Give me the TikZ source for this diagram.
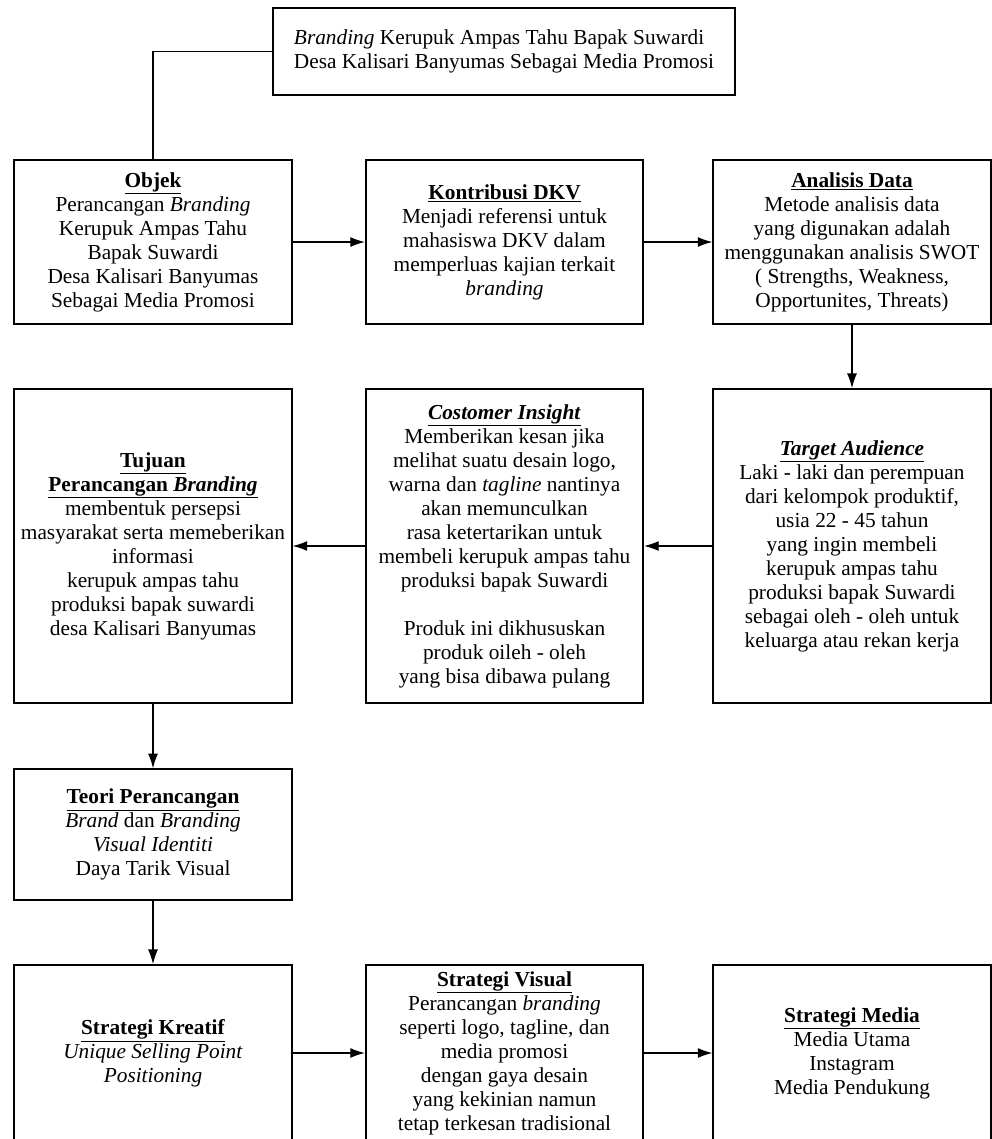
\documentclass[tikz,border=0pt]{standalone}
\usepackage{fontspec}
\setmainfont{Liberation Serif}
\usetikzlibrary{arrows.meta}

\begin{document}
\begin{tikzpicture}[x=0.75pt, y=-0.75pt, thick, >={Latex[length=11pt,width=7.5pt]},
    box/.style={draw, line width=1.3pt, align=center, inner sep=1pt, font=\fontsize{16}{18}\selectfont},
    colbox/.style={box, minimum width=208pt},
    arr/.style={line width=1pt, ->}]
    \clip (0,0) rectangle (992,1139);
    \fill [white] (0,0) rectangle (992,1139);

    % Boxes
    \node [box, align=left, minimum width=346.5pt, minimum height=65pt] (title) at (504,51.5)
        {\textit{Branding} Kerupuk Ampas Tahu Bapak Suwardi\\Desa Kalisari Banyumas Sebagai Media Promosi};
    \node [colbox, minimum height=123pt] (objek) at (153,242)
        {\underline{\textbf{Objek}}\\Perancangan \textit{Branding}\\Kerupuk Ampas Tahu\\Bapak Suwardi\\Desa Kalisari Banyumas\\Sebagai Media Promosi};
    \node [colbox, minimum height=123pt] (kontribusi) at (504.5,242)
        {\underline{\textbf{Kontribusi DKV}}\\Menjadi referensi untuk\\mahasiswa DKV dalam\\memperluas kajian terkait\\\textit{branding}};
    \node [colbox, minimum height=123pt] (analisis) at (852,242)
        {\underline{\textbf{Analisis Data}}\\Metode analisis data\\yang digunakan adalah\\menggunakan analisis SWOT\\( Strengths, Weakness,\\Opportunites, Threats)};
    \node [colbox, minimum height=235.5pt] (target) at (852,546)
        {\underline{\textbf{\textit{Target Audience}}}\\Laki - laki dan perempuan\\dari kelompok produktif,\\usia 22 - 45 tahun\\yang ingin membeli\\kerupuk ampas tahu\\produksi bapak Suwardi\\sebagai oleh - oleh untuk\\keluarga atau rekan kerja};
    \node [colbox, minimum height=235.5pt] (insight) at (504.5,546)
        {\underline{\textbf{\textit{Costomer Insight}}}\\Memberikan kesan jika\\melihat suatu desain logo,\\warna dan \textit{tagline} nantinya\\akan memunculkan\\rasa ketertarikan untuk\\membeli kerupuk ampas tahu\\produksi bapak Suwardi\\[18pt]Produk ini dikhususkan\\produk oileh - oleh\\yang bisa dibawa pulang};
    \node [colbox, minimum height=235.5pt] (tujuan) at (153,546)
        {\underline{\textbf{Tujuan}}\\\underline{\textbf{Perancangan \textit{Branding}}}\\membentuk persepsi\\masyarakat serta memeberikan\\informasi\\kerupuk ampas tahu\\produksi bapak suwardi\\desa Kalisari Banyumas};
    \node [colbox, minimum height=98pt] (teori) at (153,834.5)
        {\underline{\textbf{Teori Perancangan}}\\\textit{Brand} dan \textit{Branding}\\\textit{Visual Identiti}\\Daya Tarik Visual};
    \node [colbox, minimum height=132pt] (kreatif) at (153,1053)
        {\underline{\textbf{Strategi Kreatif}}\\\textit{Unique Selling Point}\\\textit{Positioning}};
    \node [colbox, minimum height=132pt] (visual) at (504.5,1053)
        {\underline{\textbf{Strategi Visual}}\\Perancangan \textit{branding}\\seperti logo, tagline, dan\\media promosi\\dengan gaya desain\\yang kekinian namun\\tetap terkesan tradisional};
    \node [colbox, minimum height=132pt] (media) at (852,1053)
        {\underline{\textbf{Strategi Media}}\\Media Utama\\Instagram\\Media Pendukung};

    % Arrows and lines
    \draw [line width=1pt] (title.west) -| (objek.north);
    \draw [arr] (objek) -- (kontribusi);
    \draw [arr] (kontribusi) -- (analisis);
    \draw [arr] (analisis) -- (target);
    \draw [arr] (target) -- (insight);
    \draw [arr] (insight) -- (tujuan);
    \draw [arr] (tujuan) -- (teori);
    \draw [arr] (teori) -- (kreatif);
    \draw [arr] (kreatif) -- (visual);
    \draw [arr] (visual) -- (media);
\end{tikzpicture}
\end{document}
